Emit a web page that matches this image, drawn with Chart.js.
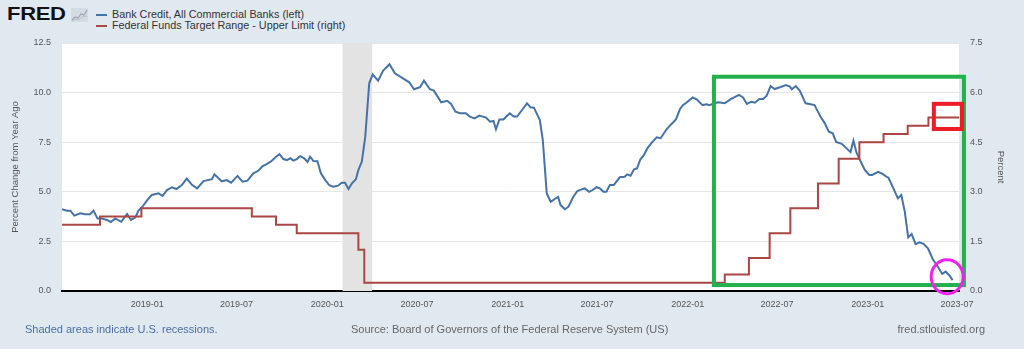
<!DOCTYPE html>
<html>
<head>
<meta charset="utf-8">
<title>Bank Credit and Federal Funds Target</title>
<script src="https://cdn.jsdelivr.net/npm/chart.js@4.4.0/dist/chart.umd.min.js"></script>
<style>
  html, body { margin: 0; padding: 0; }
  body {
    width: 1024px; height: 349px; position: relative; overflow: hidden;
    background: #e1e9f0;
    font-family: "Liberation Sans", Arial, sans-serif;
  }
  #chart { position: absolute; left: 0; top: 0; }
  .logo {
    position: absolute; left: 7px; top: 5px;
    font-size: 22px; line-height: 22px; font-weight: bold; color: #111;
    letter-spacing: -0.3px; transform: scaleY(0.86); transform-origin: left top;
  }
  .logo-icon { position: absolute; left: 71px; top: 8px; }
  .legend { position: absolute; left: 96px; font-size: 10.8px; line-height: 11px; color: #333; }
  .legend i { position: absolute; left: 0; top: 5px; width: 11px; height: 2px; }
  .legend span { position: absolute; left: 16px; top: 0; white-space: nowrap; }
  .foot { position: absolute; top: 323px; font-size: 11px; line-height: 12px; white-space: nowrap; color: #666; }
</style>
</head>
<body>
<div class="logo">FRED</div>
<svg class="logo-icon" width="17" height="14" viewBox="0 0 17 14">
  <rect x="0" y="0" width="17" height="14" fill="#d3dbe3"/>
  <polyline points="1,12 4,9 7,10 10,6 13,7 16,2" fill="none" stroke="#9aa6b2" stroke-width="1.2"/>
  <polyline points="1,13 5,11 8,12 11,9 16,8" fill="none" stroke="#b6c0ca" stroke-width="1"/>
</svg>
<div class="legend" style="top:9px"><i style="background:#4572a7"></i><span>Bank Credit, All Commercial Banks (left)</span></div>
<div class="legend" style="top:20px"><i style="background:#aa4643"></i><span>Federal Funds Target Range - Upper Limit (right)</span></div>
<canvas id="chart" width="1024" height="349"></canvas>
<div class="foot" style="left:25px;color:#4a6fa5">Shaded areas indicate U.S. recessions.</div>
<div class="foot" style="left:351px">Source: Board of Governors of the Federal Reserve System (US)</div>
<div class="foot" style="right:39px">fred.stlouisfed.org</div>
<script>
// Bank credit, all commercial banks: percent change from year ago (left axis)
const creditDates = [
  '2018-07-12','2018-07-22','2018-07-29','2018-08-06','2018-08-18','2018-08-28','2018-09-07','2018-09-14',
  '2018-09-22','2018-10-01','2018-10-11','2018-10-19','2018-10-28','2018-11-09','2018-11-21','2018-11-29',
  '2018-12-08','2018-12-14','2018-12-23','2019-01-02','2019-01-10','2019-01-24','2019-02-01','2019-02-10',
  '2019-02-20','2019-03-01','2019-03-12','2019-03-22','2019-04-02','2019-04-12','2019-04-25','2019-05-12',
  '2019-05-17','2019-06-01','2019-06-11','2019-06-20','2019-07-03','2019-07-13','2019-07-23','2019-08-04',
  '2019-08-14','2019-08-23','2019-08-31','2019-09-10','2019-09-19','2019-09-26','2019-10-04','2019-10-11',
  '2019-10-18','2019-10-24','2019-10-31','2019-11-07','2019-11-15','2019-11-22','2019-11-27','2019-12-04',
  '2019-12-12','2019-12-19','2019-12-28','2020-01-05','2020-01-13','2020-01-23','2020-01-30','2020-02-06',
  '2020-02-13','2020-02-20','2020-02-28','2020-03-04','2020-03-11','2020-03-18','2020-03-26','2020-04-02',
  '2020-04-13','2020-04-23','2020-05-06','2020-05-17','2020-05-31','2020-06-15','2020-06-25','2020-07-07',
  '2020-07-15','2020-07-27','2020-08-04','2020-08-19','2020-08-31','2020-09-08','2020-09-17','2020-09-26',
  '2020-10-08','2020-10-16','2020-10-26','2020-11-04','2020-11-18','2020-11-26','2020-12-03','2020-12-08',
  '2020-12-15','2020-12-23','2021-01-05','2021-01-13','2021-01-20','2021-01-31','2021-02-09','2021-02-16',
  '2021-02-23','2021-03-07','2021-03-13','2021-03-21','2021-03-29','2021-04-13','2021-04-18','2021-04-27',
  '2021-05-04','2021-05-14','2021-05-22','2021-05-31','2021-06-06','2021-06-15','2021-06-22','2021-06-30',
  '2021-07-07','2021-07-14','2021-07-20','2021-07-27','2021-08-04','2021-08-16','2021-08-26','2021-08-31',
  '2021-09-07','2021-09-14','2021-09-20','2021-09-27','2021-10-04','2021-10-11','2021-10-20','2021-10-30',
  '2021-11-07','2021-11-19','2021-11-29','2021-12-08','2021-12-16','2021-12-22','2021-12-29','2022-01-11',
  '2022-01-19','2022-01-31','2022-02-08','2022-02-14','2022-02-24','2022-03-04','2022-03-17','2022-03-30',
  '2022-04-15','2022-04-23','2022-05-01','2022-05-10','2022-05-17','2022-05-26','2022-06-03','2022-06-10',
  '2022-06-18','2022-06-26','2022-07-07','2022-07-19','2022-07-27','2022-07-31','2022-08-08','2022-08-16',
  '2022-08-28','2022-09-05','2022-09-15','2022-09-27','2022-10-06','2022-10-14','2022-10-22','2022-10-29',
  '2022-11-09','2022-11-15','2022-11-27','2022-12-03','2022-12-09','2022-12-19','2022-12-26','2023-01-04',
  '2023-01-10','2023-01-22','2023-01-31','2023-02-08','2023-02-12','2023-02-22','2023-03-03','2023-03-10',
  '2023-03-17','2023-03-24','2023-03-31','2023-04-08','2023-04-16','2023-04-24','2023-05-03','2023-05-13',
  '2023-05-25','2023-06-01','2023-06-08','2023-06-16','2023-06-22'
];
const creditValues = [
  4.12, 4.05, 4.05, 3.80, 3.92, 3.87, 3.87, 4.05,
  3.65, 3.65, 3.58, 3.48, 3.66, 3.49, 3.88, 3.58,
  3.71, 4.05, 4.28, 4.62, 4.84, 4.92, 4.79, 5.09,
  5.23, 5.14, 5.34, 5.66, 5.34, 5.17, 5.54, 5.64,
  5.88, 5.53, 5.59, 5.46, 5.80, 5.51, 5.56, 5.93,
  6.06, 6.30, 6.40, 6.55, 6.77, 6.90, 6.65, 6.60,
  6.69, 6.57, 6.65, 6.80, 6.69, 6.50, 6.77, 6.55,
  6.54, 5.93, 5.59, 5.33, 5.26, 5.31, 5.46, 5.46,
  5.14, 5.43, 5.63, 6.10, 6.52, 7.78, 10.47, 10.92,
  10.60, 11.10, 11.43, 10.97, 10.75, 10.52, 10.17, 10.27,
  10.60, 10.17, 10.10, 9.51, 9.59, 9.43, 9.04, 8.96,
  8.96, 8.79, 8.70, 8.84, 8.74, 8.53, 8.57, 8.15,
  8.65, 8.65, 8.96, 8.79, 8.79, 9.16, 9.46, 9.26,
  9.24, 8.62, 7.61, 4.92, 4.50, 4.75, 4.33, 4.12,
  4.25, 4.75, 5.04, 5.12, 5.17, 5.00, 5.09, 5.23,
  5.17, 5.00, 5.00, 5.34, 5.34, 5.73, 5.76, 5.88,
  5.81, 6.13, 6.18, 6.64, 6.85, 7.19, 7.48, 7.75,
  7.70, 8.15, 8.42, 8.65, 9.16, 9.37, 9.49, 9.76,
  9.66, 9.37, 9.41, 9.37, 9.46, 9.51, 9.46, 9.68,
  9.88, 9.76, 9.43, 9.54, 9.49, 9.68, 9.68, 9.84,
  10.33, 10.18, 10.27, 10.38, 10.30, 10.17, 10.33, 10.10,
  9.46, 9.43, 9.37, 8.79, 8.45, 8.03, 7.95, 7.51,
  7.42, 7.29, 7.00, 7.58, 6.98, 6.45, 6.10, 5.85,
  5.85, 6.01, 5.90, 5.76, 5.71, 5.17, 4.67, 4.84,
  4.00, 2.70, 2.87, 2.36, 2.45, 2.38, 2.15, 1.60,
  1.15, 0.86, 0.98, 0.77, 0.55
];

// Federal funds target range, upper limit: value in force from each date (right axis)
const fedDates  = ['2018-07-12','2018-09-27','2018-12-20','2019-08-01','2019-09-19','2019-10-31',
                   '2020-03-04','2020-03-16','2022-03-17','2022-05-05','2022-06-16','2022-07-28',
                   '2022-09-22','2022-11-03','2022-12-15','2023-02-02','2023-03-23','2023-05-04','2023-07-05'];
const fedValues = [2.00, 2.25, 2.50, 2.25, 2.00, 1.75,
                   1.25, 0.25, 0.50, 1.00, 1.75, 2.50,
                   3.25, 4.00, 4.50, 4.75, 5.00, 5.25, 5.25];

const xTickLabels = ['2019-01','2019-07','2020-01','2020-07','2021-01','2021-07','2022-01','2022-07','2023-01','2023-07'];
const recessions = [['2020-02-01', '2020-04-01']];
const dateRange = ['2018-07-12', '2023-07-05'];

// hand-drawn markup over the chart, placed in data terms
const greenBox  = { from: '2022-02-23', to: '2023-07-15', top: 10.8, bottom: 0.3 };   // left axis
const redBox    = { from: '2023-05-15', to: '2023-07-11', top: 5.66, bottom: 4.90 };  // right axis
const ring      = { at: '2023-06-11', value: 0.72 };                                  // left axis

const toMs = s => Date.parse(s + 'T00:00:00Z');
const monthLabel = v => new Date(v).toISOString().slice(0, 7);

const backdrop = {
  id: 'backdrop',
  beforeDraw(chart) {
    const { ctx, chartArea: a } = chart;
    ctx.save();
    ctx.fillStyle = '#ffffff';
    ctx.fillRect(a.left, a.top, a.right - a.left, a.bottom - a.top);
    ctx.restore();
  },
  beforeDatasetsDraw(chart) {
    const { ctx, chartArea: a, scales: { x } } = chart;
    ctx.save();
    ctx.fillStyle = '#e3e3e3';
    recessions.forEach(([s, e]) => {
      const x0 = x.getPixelForValue(toMs(s)), x1 = x.getPixelForValue(toMs(e));
      ctx.fillRect(x0, a.top, x1 - x0, a.bottom - a.top);
    });
    ctx.restore();
  }
};

const markup = {
  id: 'markup',
  afterDraw(chart) {
    const { ctx, scales: { x, y, y1 } } = chart;
    ctx.save();
    ctx.lineWidth = 4;
    ctx.strokeStyle = '#22b14c';
    let x0 = x.getPixelForValue(toMs(greenBox.from)), x1 = x.getPixelForValue(toMs(greenBox.to));
    let t = y.getPixelForValue(greenBox.top), b = y.getPixelForValue(greenBox.bottom);
    ctx.strokeRect(x0, t, x1 - x0, b - t);

    ctx.strokeStyle = '#ee1c24';
    x0 = x.getPixelForValue(toMs(redBox.from)); x1 = x.getPixelForValue(toMs(redBox.to));
    t = y1.getPixelForValue(redBox.top); b = y1.getPixelForValue(redBox.bottom);
    ctx.strokeRect(x0, t, x1 - x0, b - t);

    ctx.lineWidth = 3;
    ctx.strokeStyle = '#f020f0';
    ctx.beginPath();
    ctx.ellipse(x.getPixelForValue(toMs(ring.at)), y.getPixelForValue(ring.value), 16, 17, 0, 0, Math.PI * 2);
    ctx.stroke();
    ctx.restore();
  }
};

const tickFont = { family: '"Liberation Sans", Arial, sans-serif', size: 9 };
const titleFont = { family: '"Liberation Sans", Arial, sans-serif', size: 9.5 };

new Chart(document.getElementById('chart'), {
  type: 'line',
  data: {
    datasets: [
      {
        label: 'Federal Funds Target Range - Upper Limit (right)',
        data: fedDates.map((d, i) => ({ x: toMs(d), y: fedValues[i] })),
        yAxisID: 'y1',
        borderColor: '#aa4643',
        borderWidth: 2,
        stepped: true,
        pointRadius: 0,
        order: 0
      },
      {
        label: 'Bank Credit, All Commercial Banks (left)',
        data: creditDates.map((d, i) => ({ x: toMs(d), y: creditValues[i] })),
        yAxisID: 'y',
        borderColor: '#4572a7',
        borderWidth: 2,
        pointRadius: 0,
        tension: 0,
        order: 1
      }
    ]
  },
  options: {
    responsive: false,
    animation: false,
    layout: { padding: { top: 43, left: 0, right: 0, bottom: 0 } },
    plugins: { legend: { display: false }, tooltip: { enabled: false } },
    scales: {
      x: {
        type: 'linear',
        min: toMs(dateRange[0]),
        max: toMs(dateRange[1]),
        afterBuildTicks: s => { s.ticks = xTickLabels.map(m => ({ value: toMs(m + '-01') })); },
        afterFit: s => { s.height = 58; },
        grid: { display: false },
        border: { display: true, color: '#000', width: 2 },
        ticks: { autoSkip: false, maxRotation: 0, padding: 0, color: '#555', font: tickFont,
                 callback: v => monthLabel(v) }
      },
      y: {
        position: 'left',
        min: 0, max: 12.5,
        afterFit: s => { s.width = 62; },
        grid: { color: '#e6e6e6', drawTicks: false },
        border: { display: false },
        ticks: { stepSize: 2.5, padding: 11, color: '#555', font: tickFont, callback: v => v.toFixed(1) },
        title: { display: true, text: 'Percent Change from Year Ago', color: '#555', font: titleFont,
                 padding: { top: 10, bottom: 0 } }
      },
      y1: {
        position: 'right',
        min: 0, max: 7.5,
        afterFit: s => { s.width = 65; },
        grid: { display: false, drawTicks: false },
        border: { display: false },
        ticks: { stepSize: 1.5, padding: 11, color: '#555', font: tickFont, callback: v => v.toFixed(1) },
        title: { display: true, text: 'Percent', color: '#555', font: titleFont,
                 padding: { top: 18, bottom: 0 } }
      }
    }
  },
  plugins: [backdrop, markup]
});
</script>
</body>
</html>
